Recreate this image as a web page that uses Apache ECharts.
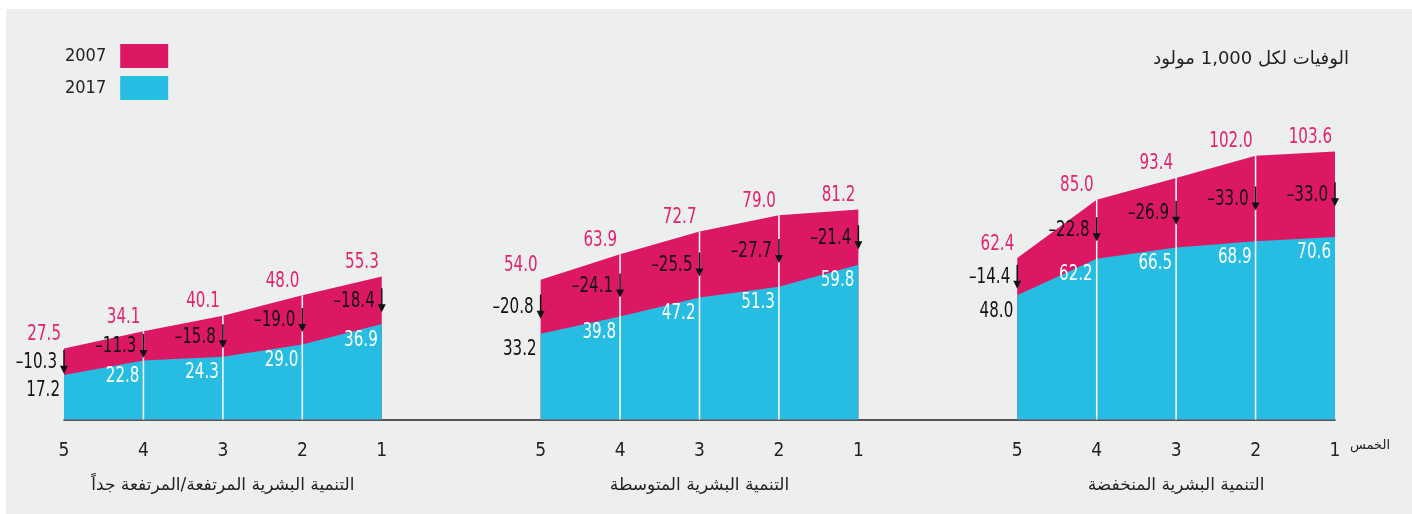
<!DOCTYPE html>
<html>
<head>
<meta charset="utf-8">
<script src="https://cdn.jsdelivr.net/npm/echarts@6/dist/echarts.min.js"></script>
<style>
html,body{margin:0;padding:0;background:#fff;}
#chart{width:1412px;height:514px;}
</style>
</head>
<body>
<div id="chart"></div>
<script>
// ---- data ----
const quintiles = ['5', '4', '3', '2', '1'];
const groupNames = ['التنمية البشرية المرتفعة/المرتفعة جداً', 'التنمية البشرية المتوسطة', 'التنمية البشرية المنخفضة'];
const high2007 = [27.5, 34.1, 40.1, 48.0, 55.3];
const high2017 = [17.2, 22.8, 24.3, 29.0, 36.9];
const highChange = [-10.3, -11.3, -15.8, -19.0, -18.4];
const med2007 = [54.0, 63.9, 72.7, 79.0, 81.2];
const med2017 = [33.2, 39.8, 47.2, 51.3, 59.8];
const medChange = [-20.8, -24.1, -25.5, -27.7, -21.4];
const low2007 = [62.4, 85.0, 93.4, 102.0, 103.6];
const low2017 = [48.0, 62.2, 66.5, 68.9, 70.6];
const lowChange = [-14.4, -22.8, -26.9, -33.0, -33.0];
const legendNames = ['2007', '2017'];
const yTitle = 'الوفيات لكل 1,000 مولود';
const quintileWord = 'الخمس';

// ---- build flat category axis with one empty slot between groups ----
const groups = [
  [high2007, high2017, highChange],
  [med2007, med2017, medChange],
  [low2007, low2017, lowChange]
];
const cats = [], titleCats = [], s2007 = [], s2017 = [], labelData = [];
groups.forEach((g, gi) => {
  if (gi > 0) { cats.push(''); titleCats.push(''); s2007.push(null); s2017.push(null); }
  quintiles.forEach((q, i) => {
    const idx = cats.length;
    cats.push(q);
    titleCats.push(i === 2 ? groupNames[gi] : '');
    s2007.push(g[0][i]);
    s2017.push(g[1][i]);
    labelData.push([idx, g[0][i], g[1][i], g[2][i], i === 0 ? 1 : 0, i === 4 ? 1 : 0]);
  });
});

const MAGENTA = '#dc1865';
const BLUE = '#27bde2';
const PINK_TXT = '#e2226f';
const NUM_FONT = '"Liberation Sans Narrow", "DejaVu Sans Condensed", "Roboto", sans-serif';
const AR_FONT = '"DejaVu Sans", "Noto Sans", sans-serif';
const SX = 0.8;

function fmt(v) { return (v < 0 ? '\u2013' : '') + Math.abs(v).toFixed(1); }

function numText(str, x, y, fill) {
  return {
    type: 'text', x: x, y: y, scaleX: SX, scaleY: 1,
    style: { text: str, x: 0, y: 0, align: 'right', verticalAlign: 'middle', fontSize: 21, fontFamily: NUM_FONT, fill: fill }
  };
}

const chart = echarts.init(document.getElementById('chart'));
chart.setOption({
  backgroundColor: '#ffffff',
  animation: false,
  graphic: [
    { type: 'rect', z: -100, silent: true, shape: { x: 6, y: 9, width: 1406, height: 505 }, style: { fill: '#edefef' } },
    { type: 'text', right: 22, top: 439, style: { text: quintileWord, fontSize: 13, fontFamily: AR_FONT, fill: '#222' } }
  ],
  title: {
    text: yTitle, right: 58, top: 45,
    textStyle: { fontSize: 18, fontWeight: 'normal', fontFamily: AR_FONT, color: '#222' }
  },
  legend: {
    data: legendNames.map(n => ({ name: n, icon: 'rect' })),
    orient: 'vertical', left: 60, top: 39, align: 'right',
    itemWidth: 48, itemHeight: 24, itemGap: 8,
    textStyle: { fontSize: 18, fontFamily: NUM_FONT, color: '#222', padding: [0, 9, 0, 0] }
  },
  grid: { left: 64, right: 77, top: 135, bottom: 94.5 },
  xAxis: [
    {
      type: 'category', data: cats, boundaryGap: false,
      axisLine: { lineStyle: { color: '#222', width: 1.5 } },
      axisTick: { show: false },
      axisLabel: { interval: 0, margin: 22, fontSize: 19, fontFamily: NUM_FONT, color: '#222' }
    },
    {
      type: 'category', data: titleCats, boundaryGap: false, position: 'bottom',
      axisLine: { show: false }, axisTick: { show: false },
      axisLabel: { interval: 0, margin: 58, fontSize: 17, fontFamily: AR_FONT, color: '#222' }
    }
  ],
  yAxis: { type: 'value', min: 0, max: 110, show: false, splitLine: { show: false } },
  series: [
    {
      name: '2007', type: 'line', data: s2007, symbol: 'none', connectNulls: false, clip: false,
      lineStyle: { width: 0 }, itemStyle: { color: MAGENTA },
      areaStyle: { color: MAGENTA, opacity: 1 }, z: 1
    },
    {
      name: '2017', type: 'line', data: s2017, symbol: 'none', connectNulls: false, clip: false,
      lineStyle: { width: 0 }, itemStyle: { color: BLUE },
      areaStyle: { color: BLUE, opacity: 1 }, z: 2
    },
    {
      type: 'custom', data: labelData, z: 5, silent: true,
      encode: { x: 0, y: 1 },
      renderItem: function (params, api) {
        const idx = api.value(0), v07 = api.value(1), v17 = api.value(2), ch = api.value(3);
        const first = api.value(4) === 1, last = api.value(5) === 1;
        const p0 = api.coord([idx, 0]);
        const p07 = api.coord([idx, v07]);
        const p17 = api.coord([idx, v17]);
        const x = p07[0];
        const mid = (p07[1] + p17[1]) / 2;
        const children = [];
        if (!first && !last) {
          children.push({ type: 'line', shape: { x1: x, y1: p0[1], x2: x, y2: p07[1] }, style: { stroke: '#ffffff', lineWidth: 1.5 } });
        }
        // arrow
        children.push({ type: 'line', shape: { x1: x, y1: mid - 12, x2: x, y2: mid + 5 }, style: { stroke: '#111', lineWidth: 1.5 } });
        children.push({ type: 'polygon', shape: { points: [[x - 4, mid + 4], [x + 4, mid + 4], [x, mid + 12]] }, style: { fill: '#111' } });
        // texts
        children.push(numText(fmt(v07), x - 3, p07[1] - 14, PINK_TXT));
        children.push(numText(fmt(v17), x - 4, p17[1] + 16, first ? '#111' : '#ffffff'));
        children.push(numText(fmt(ch), x - 7, mid + 1, '#111'));
        return { type: 'group', children: children };
      }
    }
  ]
});
</script>
</body>
</html>
